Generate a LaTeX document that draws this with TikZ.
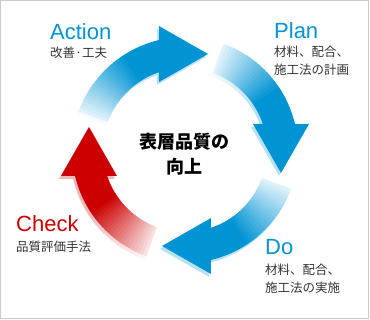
\documentclass[tikz,border=0pt]{standalone}
\usepackage{fontspec}
\usepackage{tikz}
\usepackage{xcolor}
\setmainfont{Liberation Sans}
\newfontfamily\jpfont{Noto Sans CJK JP}
\definecolor{pdcablue}{RGB}{0,148,212}
\definecolor{pdcared}{RGB}{204,0,0}
\definecolor{textgray}{RGB}{51,51,51}
\definecolor{framegray}{RGB}{204,204,204}

\begin{document}
\begin{tikzpicture}[
    x=1pt, y=1pt,
    titlelab/.style={font=\fontsize{22}{22}\selectfont, anchor=base west, inner sep=0pt},
    sublab/.style={font=\jpfont\fontsize{12.5}{18}\selectfont, text=textgray, anchor=base west, align=left, inner sep=0pt},
    centerlab/.style={font=\jpfont\bfseries\fontsize{18}{25}\selectfont, anchor=base, align=center, inner sep=0pt},
]

% -------------------------------------------------
% Frame (origin = centre of the cycle)
% -------------------------------------------------
\useasboundingbox (-185,150) rectangle (185,-170);
\draw[framegray, line width=1pt] (-184.5,149.5) rectangle (183.5,-168.5);

% -------------------------------------------------
% Cycle arrows: pale shadow first, then the arrows
% (each one is the top arrow turned by -90 degrees)
% -------------------------------------------------
\foreach \dx/\dy/\tint in {-2/-3/28, 0/0/100}{
  \foreach \k/\col in {0/pdcablue, 1/pdcablue, 2/pdcablue, 3/pdcared}{
    \begin{scope}[shift={(\dx,\dy)}, rotate=-90*\k]
      % faded tail
      \foreach \i in {0,...,19}{
        \pgfmathsetmacro\a{160-1.9*\i}
        \pgfmathsetmacro\b{\a-2.2}
        \pgfmathsetmacro\p{\tint*(0.08+0.92*(\i+1)/20)}
        \fill[\col!\p!white] (\a:113) arc (\a:\b:113) -- (\b:82) arc (\b:\a:82) -- cycle;
      }
      % solid body and head
      \fill[\col!\tint!white] (122.2:113) arc (122.2:103.3:113) -- (-26,124) -- (23,96)
        -- (-26,68) -- (-26,77.8) arc (108.5:122.2:82) -- cycle;
    \end{scope}
  }
}

% -------------------------------------------------
% Labels (base = last line of a wrapped text)
% -------------------------------------------------
\node[titlelab, text=pdcablue] (action) at (-135,110) {Action};
\node[sublab] (actiontxt) at (-135,92) {改善·工夫};

\node[titlelab, text=pdcablue] (plan) at (89,111) {Plan};
\node[sublab] (plantxt) at (89,75) {材料、配合、\\施工法の計画};

\node[titlelab, text=pdcablue] (do) at (80,-105) {Do};
\node[sublab] (dotxt) at (80,-143) {材料、配合、\\施工法の実施};

\node[titlelab, text=pdcared] (check) at (-169,-82) {Check};
\node[sublab] (checktxt) at (-169,-102) {品質評価手法};

\node[centerlab] (goal) at (0,-24) {表層品質の\\向上};

\end{tikzpicture}
\end{document}
